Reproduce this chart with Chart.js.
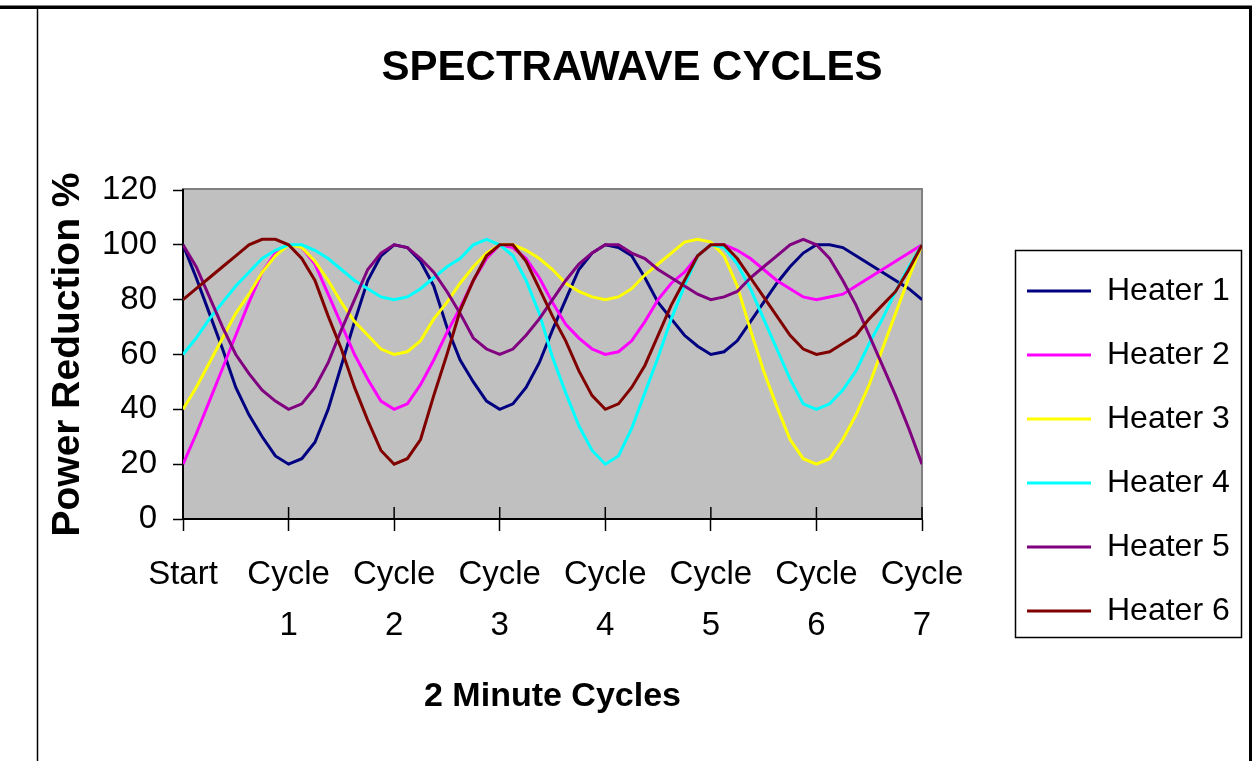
<!DOCTYPE html>
<html>
<head>
<meta charset="utf-8">
<title>Spectrawave Cycles</title>
<script src="https://cdn.jsdelivr.net/npm/chart.js@4/dist/chart.umd.min.js"></script>
<style>
  html, body { margin: 0; padding: 0; background: #fff; }
  #mycanvas { display: block; }
</style>
</head>
<body>
<canvas id="mycanvas" width="1252" height="761"></canvas>
<script>
// readings every 1/8 of a cycle, Start .. Cycle 7
var heater1 = [100, 88, 75, 62, 48, 38, 30, 23, 20, 22, 28, 40, 56, 72, 87, 96, 100, 99, 94, 85, 70, 58, 50, 43, 40, 42, 48, 57, 69, 80, 91, 97, 100, 99, 96, 88, 79, 73, 67, 63, 60, 61, 65, 72, 79, 86, 92, 97, 100, 100, 99, 96, 93, 90, 87, 84, 80];
var heater2 = [20, 31, 43, 55, 67, 79, 90, 97, 100, 99, 93, 82, 71, 60, 51, 43, 40, 42, 49, 58, 68, 77, 87, 95, 100, 99, 95, 88, 79, 71, 66, 62, 60, 61, 65, 72, 80, 86, 90, 96, 100, 100, 98, 95, 91, 87, 84, 81, 80, 81, 82, 85, 88, 91, 94, 97, 100];
var heater3 = [40, 48, 57, 66, 75, 82, 90, 96, 100, 99, 94, 87, 79, 72, 67, 62, 60, 61, 65, 73, 79, 86, 92, 97, 100, 100, 98, 95, 91, 86, 83, 81, 80, 81, 84, 89, 93, 97, 101, 102, 101, 96, 85, 69, 54, 41, 29, 22, 20, 22, 29, 38, 49, 62, 75, 88, 100];
var heater4 = [60, 66, 73, 79, 85, 90, 95, 98, 100, 100, 98, 95, 91, 87, 84, 81, 80, 81, 84, 88, 92, 95, 100, 102, 100, 96, 87, 75, 59, 46, 34, 25, 20, 23, 33, 46, 59, 73, 85, 96, 100, 99, 93, 84, 73, 62, 51, 42, 40, 42, 47, 54, 64, 73, 83, 92, 100];
var heater5 = [100, 92, 81, 70, 60, 53, 47, 43, 40, 42, 48, 57, 69, 80, 91, 97, 100, 99, 95, 90, 83, 75, 66, 62, 60, 62, 67, 73, 80, 87, 93, 97, 100, 100, 97, 95, 91, 88, 85, 82, 80, 81, 83, 88, 92, 96, 100, 102, 100, 95, 87, 78, 67, 56, 45, 33, 20];
var heater6 = [80, 84, 88, 92, 96, 100, 102, 102, 100, 95, 87, 74, 62, 48, 36, 25, 20, 22, 29, 45, 60, 76, 87, 96, 100, 100, 94, 84, 74, 65, 54, 45, 40, 42, 48, 56, 67, 78, 87, 96, 100, 100, 95, 88, 81, 74, 67, 62, 60, 61, 64, 67, 73, 78, 83, 91, 100];

var seriesNames = ["Heater 1", "Heater 2", "Heater 3", "Heater 4", "Heater 5", "Heater 6"];
var seriesColors = ["#000080", "#FF00FF", "#FFFF00", "#00FFFF", "#800080", "#800000"];
var tickLabels = ["Start", ["Cycle", "1"], ["Cycle", "2"], ["Cycle", "3"], ["Cycle", "4"], ["Cycle", "5"], ["Cycle", "6"], ["Cycle", "7"]];
var yTicks = [0, 20, 40, 60, 80, 100, 120];
var stepsPerCycle = 8;

Chart.defaults.font.family = "'Liberation Sans', Arial, sans-serif";
Chart.defaults.color = "#000";

var allSeries = [heater1, heater2, heater3, heater4, heater5, heater6];
var datasets = [];
for (var s = 0; s < allSeries.length; s++) {
	var pts = [];
	for (var i = 0; i < allSeries[s].length; i++) {
		pts.push({ x: i / stepsPerCycle, y: allSeries[s][i] });
	}
	datasets.push({
		label: seriesNames[s],
		data: pts,
		borderColor: seriesColors[s],
		backgroundColor: seriesColors[s],
		borderWidth: 3,
		pointRadius: 0,
		fill: false,
		tension: 0,
		order: allSeries.length - 1 - s
	});
}

var chartDeco = {
	id: "chartDeco",
	afterLayout: function(chart) {
		// legend and title sit where the reference puts them
		var lg = chart.legend;
		lg.left = 995; lg.right = 1252; lg.top = 243; lg.bottom = 700;
		chart.titleBlock.left = 12; chart.titleBlock.right = 1252;
	},
	beforeDraw: function(chart) {
		var ctx = chart.ctx, a = chart.chartArea;
		ctx.save();
		ctx.fillStyle = "#fff";
		ctx.fillRect(0, 0, chart.width, chart.height);
		// outer frame
		ctx.strokeStyle = "#808080";
		ctx.lineWidth = 1;
		ctx.beginPath();
		ctx.moveTo(0, 5.5);
		ctx.lineTo(chart.width, 5.5);
		ctx.stroke();
		ctx.strokeStyle = "#000";
		ctx.lineWidth = 3;
		ctx.beginPath();
		ctx.moveTo(0, 7.5);
		ctx.lineTo(1250.5, 7.5);
		ctx.lineTo(1250.5, chart.height);
		ctx.stroke();
		ctx.lineWidth = 1.5;
		ctx.beginPath();
		ctx.moveTo(37.5, chart.height);
		ctx.lineTo(37.5, 9);
		ctx.stroke();
		// plot area
		ctx.fillStyle = "#C0C0C0";
		ctx.fillRect(a.left, a.top, a.right - a.left, a.bottom - a.top);
		ctx.strokeStyle = "#808080";
		ctx.lineWidth = 2;
		ctx.strokeRect(a.left, a.top - 1, a.right - a.left, a.bottom - a.top + 1);
		ctx.restore();
	},
	beforeDatasetsDraw: function(chart) {
		// cross tick marks on the category axis
		var ctx = chart.ctx, xs = chart.scales.x, bottom = chart.chartArea.bottom;
		ctx.save();
		ctx.strokeStyle = "#000";
		ctx.lineWidth = 1.5;
		xs.ticks.forEach(function(t) {
			var px = xs.getPixelForValue(t.value);
			ctx.beginPath();
			ctx.moveTo(px, bottom);
			ctx.lineTo(px, bottom - 12);
			ctx.stroke();
		});
		ctx.restore();
	},
	afterDraw: function(chart) {
		var ctx = chart.ctx;
		ctx.save();
		ctx.strokeStyle = "#000";
		ctx.lineWidth = 1.5;
		ctx.strokeRect(1015.5, 250.5, 226, 387);
		ctx.restore();
	}
};

var ctx = document.getElementById("mycanvas");

var LineGraph = new Chart(ctx, {
	type: "line",
	data: { datasets: datasets },
	plugins: [chartDeco],
	options: {
		responsive: false,
		animation: false,
		devicePixelRatio: 1,
		layout: { padding: { left: 0, top: 0, right: 130, bottom: 0 } },
		plugins: {
			tooltip: { enabled: false },
			title: {
				display: true,
				text: "SPECTRAWAVE CYCLES",
				color: "#000",
				font: { size: 42, weight: "bold", lineHeight: 1.2 },
				padding: { top: 42.8, bottom: 96.8 }
			},
			legend: {
				position: "right",
				align: "start",
				maxWidth: 200,
				labels: {
					color: "#000",
					font: { size: 32 },
					usePointStyle: true,
					pointStyle: "line",
					pointStyleWidth: 64,
					padding: 32,
					sort: function(a, b) { return a.datasetIndex - b.datasetIndex; }
				}
			}
		},
		scales: {
			x: {
				type: "linear",
				min: 0,
				max: 7,
				afterFit: function(scale) { scale.height = 242; },
				border: { display: true, color: "#000", width: 2 },
				grid: { drawOnChartArea: false, drawTicks: true, tickLength: 12, tickColor: "#000", tickWidth: 1.5 },
				ticks: {
					stepSize: 1,
					autoSkip: false,
					maxRotation: 0,
					padding: 18.5,
					color: "#000",
					font: { size: 33, lineHeight: 1.545 },
					callback: function(value) { return tickLabels[value]; }
				},
				title: {
					display: true,
					text: "2 Minute Cycles",
					color: "#000",
					font: { size: 34, weight: "bold", lineHeight: 1.2 },
					padding: { top: 0, bottom: 44 }
				}
			},
			y: {
				min: yTicks[0],
				max: yTicks[yTicks.length - 1],
				afterFit: function(scale) { scale.width = 183; },
				border: { display: true, color: "#000", width: 2 },
				grid: { drawOnChartArea: false, drawTicks: true, tickLength: 10, tickColor: "#000", tickWidth: 1.5 },
				ticks: {
					stepSize: yTicks[1] - yTicks[0],
					padding: 16,
					color: "#000",
					font: { size: 33 }
				},
				title: {
					display: true,
					text: "Power Reduction %",
					color: "#000",
					font: { size: 39, weight: "bold", lineHeight: 1.2 },
					padding: { top: 45, bottom: 0 }
				}
			}
		}
	}
});
</script>
</body>
</html>
